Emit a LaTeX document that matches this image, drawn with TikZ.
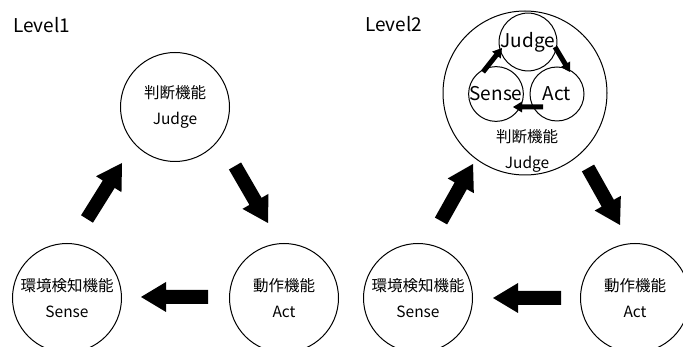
\documentclass[tikz,border=0pt]{standalone}
\usepackage{fontspec}
\setmainfont{Noto Sans CJK JP}
\usetikzlibrary{calc}

% Solid block arrow from a tail point to a tip point:
% #1 tail, #2 tip, #3 half shaft width, #4 half head width, #5 head length
\newcommand{\blockarrow}[5]{%
  \coordinate (ba-base) at ($(#2)!#5!(#1)$);
  \fill ($(#1)!#3!90:(#2)$) -- ($(ba-base)!#3!90:(#2)$) -- ($(ba-base)!#4!90:(#2)$)
    -- (#2)
    -- ($(ba-base)!#4!-90:(#2)$) -- ($(ba-base)!#3!-90:(#2)$) -- ($(#1)!#3!-90:(#2)$)
    -- cycle;
}

\begin{document}
\begin{tikzpicture}[x=1pt,y=-1pt,
  unit/.style={circle,draw,line width=1pt,minimum size=109pt,inner sep=0pt,
    align=center,font=\fontsize{15.5}{26}\selectfont},
  subunit/.style={circle,draw,line width=1pt,minimum size=54pt,inner sep=0pt,
    font=\fontsize{19}{22}\selectfont},
  outer/.style={circle,draw,line width=1pt,minimum size=164pt,inner sep=0pt},
  caption/.style={inner sep=0pt,align=center,font=\fontsize{15.5}{26}\selectfont},
  level/.style={anchor=west,inner sep=0pt,font=\fontsize{19}{22}\selectfont}]
\useasboundingbox (0,0) rectangle (683,347);

% ---- Level 1 ----
\node[level] (lv1) at (13,25) {Level1};
\node[unit] (judge1) at (175,107) {判断機能\\Judge};
\node[unit] (sense1) at (67,298) {環境検知機能\\Sense};
\node[unit] (act1)   at (284,298) {動作機能\\Act};

\coordinate (a1t) at (87,219);  \coordinate (a1h) at (122,163);
\coordinate (a2t) at (235,166); \coordinate (a2h) at (268,223);
\coordinate (a3t) at (208,297); \coordinate (a3h) at (141,297);
\blockarrow{a1t}{a1h}{7pt}{15pt}{25pt}
\blockarrow{a2t}{a2h}{7pt}{15pt}{25pt}
\blockarrow{a3t}{a3h}{7pt}{15pt}{25pt}

% ---- Level 2 ----
\node[level] (lv2) at (365,24) {Level2};
\node[outer] (judge2) at (525,93) {};
\node[caption] (judge2txt) at (527,151) {判断機能\\Judge};
\node[subunit] (sj) at (528,42) {Judge};
\node[subunit] (ss) at (496,94) {Sense};
\node[subunit] (sa) at (557,94) {Act};
\node[unit] (sense2) at (418,298) {環境検知機能\\Sense};
\node[unit] (act2)   at (635,298) {動作機能\\Act};

\coordinate (a4t) at (441,221); \coordinate (a4h) at (473,164);
\coordinate (a5t) at (588,168); \coordinate (a5h) at (620,225);
\coordinate (a6t) at (561,298); \coordinate (a6h) at (493,298);
\blockarrow{a4t}{a4h}{7pt}{15pt}{25pt}
\blockarrow{a5t}{a5h}{7pt}{15pt}{25pt}
\blockarrow{a6t}{a6h}{7pt}{15pt}{25pt}

% inner cycle of the judging function
\coordinate (b1t) at (483,72);  \coordinate (b1h) at (502,48);
\coordinate (b2t) at (555,47);  \coordinate (b2h) at (570,72);
\coordinate (b3t) at (543,107); \coordinate (b3h) at (513,107);
\blockarrow{b1t}{b1h}{2.5pt}{5.5pt}{9pt}
\blockarrow{b2t}{b2h}{2.5pt}{5.5pt}{9pt}
\blockarrow{b3t}{b3h}{2.5pt}{5.5pt}{9pt}
\end{tikzpicture}
\end{document}
